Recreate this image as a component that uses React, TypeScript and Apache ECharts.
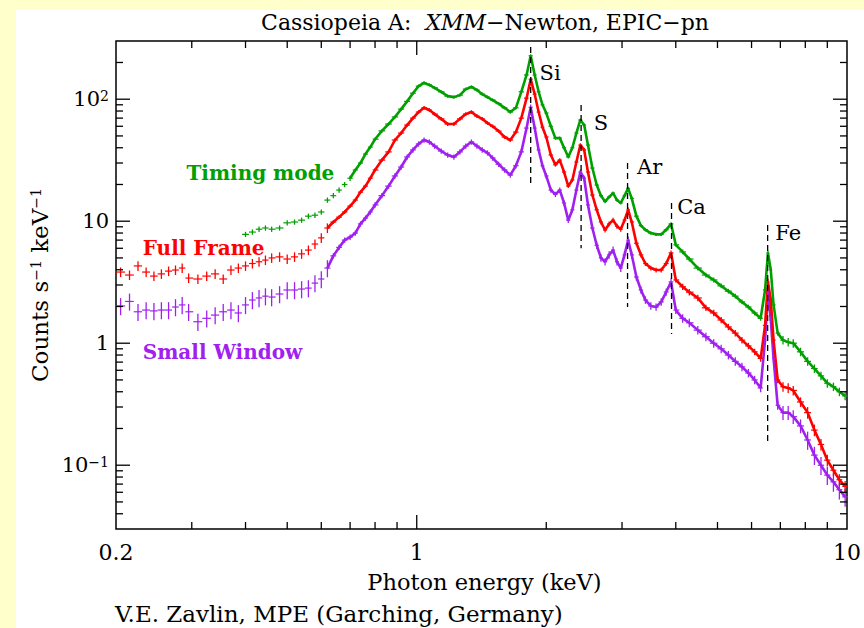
import React, { useEffect, useRef } from "react";
import * as echarts from "echarts";

// ---------- data ----------
const energyKeV = [
  0.205, 0.215, 0.225, 0.235, 0.245, 0.255, 0.265, 0.275, 0.285, 0.295,
  0.31, 0.325, 0.34, 0.355, 0.37, 0.385,
  0.40, 0.415, 0.43, 0.445, 0.46,
  0.48, 0.50, 0.52, 0.54, 0.56, 0.58, 0.60, 0.62, 0.64, 0.66, 0.68, 0.70, 0.72, 0.74, 0.76, 0.78, 0.80,
  0.83, 0.86, 0.89, 0.92, 0.95, 0.98, 1.01, 1.04, 1.07, 1.10,
  1.14, 1.18, 1.22, 1.26, 1.30, 1.34, 1.38, 1.42, 1.46,
  1.50, 1.55, 1.60, 1.65, 1.70, 1.75, 1.80,
  1.84, 1.88, 1.92, 1.96,
  2.00, 2.05, 2.10, 2.15, 2.20, 2.25, 2.30, 2.35, 2.40, 2.45, 2.50,
  2.56, 2.62, 2.68, 2.74, 2.80, 2.86, 2.92, 2.98, 3.04, 3.10, 3.16,
  3.24, 3.32, 3.40,
  3.50, 3.60, 3.70, 3.80, 3.90, 4.00,
  4.15, 4.30,
  4.50, 4.70, 4.90, 5.10, 5.30, 5.50, 5.70, 5.90, 6.10, 6.30,
  6.45, 6.55, 6.65, 6.75,
  6.90, 7.10, 7.30, 7.50,
  7.80, 8.10, 8.40, 8.70, 9.00, 9.30, 9.60, 9.90,
];

const timingMode = [
  null, null, null, null, null, null, null, null, null, null,
  null, null, null, null, null, null,
  7.8, 8.15, 8.6, 8.8, 8.6,
  8.8, 9.7, 9.85, 10.2, 11.0, 11.2, 11.9, 14.9, 16.2, 18, 20, 22.5, 26.3, 30, 35.5, 40.5, 47,
  55, 62.6, 71.5, 83, 96, 112, 128, 136, 131, 124,
  115, 106, 104, 108, 121, 126, 119, 110, 104,
  98.5, 92, 85, 78.5, 85, 115, 158,
  227, 158, 115, 90,
  77, 60, 48, 48, 40, 33.6, 40, 52.8, 67.6, 61.4, 42.1,
  27.3, 19.8, 16.2, 14.5, 15.8, 17, 14.9, 14.1, 16.2, 18.6, 15.4,
  11, 9.2, 8.5,
  8.0, 7.8, 7.8, 8.5, 9.5, 6.4,
  5.6, 4.9,
  4.13, 3.62, 3.3, 2.95, 2.67, 2.43, 2.18, 1.98, 1.77, 1.6,
  2.73, 5.5, 4.0, 2.06,
  1.21, 1.06, 1.02, 1.0,
  0.85, 0.71, 0.62, 0.54, 0.47, 0.44, 0.40, 0.37,
];

const fullFrame = [
  3.83, 3.62, 4.3, 3.83, 3.55, 3.7, 3.9, 3.98, 4.13, 3.42,
  3.36, 3.55, 3.7, 3.36, 3.98, 4.13,
  4.3, 4.5, 4.65, 4.8, 5.0,
  5.1, 4.9, 5.1, 5.4, 5.8, 6.5, 7.3, 8.8, 9.85, 10.8, 11.9, 13.3, 14.9, 17.3, 19.4, 22.5, 26.3,
  31.7, 37, 46.3, 52.8, 61.4, 70, 78.5, 85, 81.5, 75.5,
  69, 62.6, 62.6, 69, 75.5, 78.5, 72.7, 69, 63.8,
  60, 54.8, 49, 46.3, 53.8, 70, 102,
  146, 110, 78.5, 59,
  49, 34.9, 29, 31.7, 25.3, 19.4, 21.8, 30.6, 42.1, 38.4, 25.3,
  16.4, 12.4, 9.85, 8.47, 9.5, 10.2, 9.1, 8.6, 10.2, 12.4, 9.85,
  6.6, 5.3, 4.5,
  4.13, 3.98, 3.98, 4.5, 5.5, 3.3,
  2.9, 2.62,
  2.35, 1.95, 1.77, 1.55, 1.36, 1.21, 1.06, 0.95, 0.85, 0.75,
  1.4, 3.2, 2.26, 1.06,
  0.50, 0.44, 0.43, 0.41,
  0.33, 0.27, 0.194, 0.148, 0.110, 0.091, 0.076, 0.067,
];

const smallWindow = [
  2.02, 2.2, 1.81, 1.87, 1.84, 1.87, 1.87, 1.98, 2.06, 1.81,
  1.5, 1.6, 1.7, 1.81, 1.87, 1.77,
  2.06, 2.26, 2.35, 2.43, 2.39,
  2.53, 2.73, 2.73, 2.78, 2.83, 3.11, 3.36, 4.13, 5.2, 6.1, 7.0, 7.4, 8.0, 9.5, 10.6, 11.9, 13.6,
  16.2, 19.4, 23.5, 27.8, 33.6, 38.4, 43, 46.3, 44.6, 41.3,
  37.6, 34.9, 33.6, 37, 41.3, 44.6, 41.3, 38.4, 36.3,
  33, 29.3, 26.3, 23.9, 28.5, 37, 58,
  86, 58, 38.4, 28.5,
  23.5, 18, 16.6, 18, 14.1, 10.2, 12.4, 18, 25.3, 22.5, 13.6,
  8.8, 6.35, 5.0, 4.65, 5.3, 5.8, 4.65, 4.13, 5.3, 7.0, 5.3,
  3.49, 2.73, 2.26,
  2.02, 1.98, 2.18, 2.63, 3.18, 1.87,
  1.6, 1.47,
  1.28, 1.13, 1.0, 0.90, 0.80, 0.71, 0.64, 0.57, 0.50, 0.43,
  1.06, 2.58, 1.55, 0.75,
  0.31, 0.27, 0.27, 0.25,
  0.21, 0.161, 0.121, 0.10, 0.083, 0.073, 0.063, 0.055,
];

// relative 1-sigma errors: [upper energy of band (keV), relative error]
const timingErr = [[0.7, 0.05], [4.0, 0.03], [6.9, 0.045], [10, 0.08]];
const fullFrameErr = [[0.62, 0.09], [2.6, 0.035], [4.0, 0.045], [6.9, 0.06], [8.0, 0.09], [10, 0.11]];
const smallWindowErr = [[0.62, 0.16], [2.6, 0.05], [4.0, 0.07], [6.9, 0.08], [8.0, 0.13], [10, 0.17]];
// energy below which each spectrum is drawn as separate crosses only
const crossOnlyBelowKeV = [0.7, 0.61, 0.61];

const seriesNames = ["Timing mode", "Full Frame", "Small Window"];
const seriesLabelKeV = [0.2915, 0.2308, 0.2308];
const seriesLabelCounts = [24.8, 6.0, 0.847];

const lineNames = ["Si", "S", "Ar", "Ca", "Fe"];
const lineKeV = [1.84, 2.41, 3.09, 3.91, 6.54];
const lineTop = [268, 89.5, 30, 14.1, 9.3];
const lineBottom = [19.8, 6.0, 1.98, 1.19, 0.152];
const lineLabelKeV = [1.93, 2.58, 3.25, 4.03, 6.81];
const lineLabelCounts = [164, 63.8, 27.8, 13.1, 8.0];

const xTickValues = [0.2, 1, 10];
const xTickTexts = ["0.2", "1", "10"];
const yTickValues = [0.1, 1, 10, 100];
const yTickTexts = ["10{sup|−1}", "1", "10", "10{sup|2}"];
const xMinorTicks = [0.3, 0.4, 0.5, 0.6, 0.7, 0.8, 0.9, 2, 3, 4, 5, 6, 7, 8, 9];
const xMajorTicks = [1];
const yMinorTicks = [0.04, 0.05, 0.06, 0.07, 0.08, 0.09, 0.2, 0.3, 0.4, 0.5, 0.6, 0.7, 0.8, 0.9,
  2, 3, 4, 5, 6, 7, 8, 9, 20, 30, 40, 50, 60, 70, 80, 90, 200];
const yMajorTicks = [0.1, 1, 10, 100];

// ---------- styling ----------
const OX = 16;
const OY = 10;
const FONT = '"DejaVu Serif", "Liberation Serif", serif';
const COLORS = ["#00a000", "#ff0000", "#a020f0"];

function errFor(bands: number[][], e: number) {
  for (const b of bands) if (e <= b[0]) return b[1];
  return bands[bands.length - 1][1];
}

function buildPoints(values: (number | null)[], bands: number[][]) {
  const out: number[][] = [];
  for (let i = 0; i < energyKeV.length; i++) {
    const v = values[i];
    if (v == null) continue;
    const e = energyKeV[i];
    const prev = i > 0 && values[i - 1] != null ? energyKeV[i - 1] : null;
    const next = i < energyKeV.length - 1 ? energyKeV[i + 1] : null;
    const lo = prev != null ? Math.sqrt(prev * e) : next != null ? (e * e) / Math.sqrt(next * e) : e;
    const hi = next != null ? Math.sqrt(next * e) : prev != null ? (e * e) / Math.sqrt(prev * e) : e;
    out.push([e, v, lo, hi, errFor(bands, e)]);
  }
  return out;
}

function pickLabel(v: number, vals: number[], texts: string[]) {
  for (let i = 0; i < vals.length; i++) {
    if (Math.abs(Math.log10(v) - Math.log10(vals[i])) < 1e-4) return texts[i];
  }
  return "";
}

export default function App() {
  const ref = useRef<HTMLDivElement>(null);

  useEffect(() => {
    if (!ref.current) return;
    const chart = echarts.init(ref.current, undefined, { renderer: "svg" });

    const specs = [
      { name: seriesNames[0], values: timingMode, err: timingErr, color: COLORS[0], cut: crossOnlyBelowKeV[0] },
      { name: seriesNames[1], values: fullFrame, err: fullFrameErr, color: COLORS[1], cut: crossOnlyBelowKeV[1] },
      { name: seriesNames[2], values: smallWindow, err: smallWindowErr, color: COLORS[2], cut: crossOnlyBelowKeV[2] },
    ];

    const spectrumSeries: any[] = [];
    [2, 1, 0].forEach((k) => {
      const s = specs[k];
      const pts = buildPoints(s.values, s.err);
      spectrumSeries.push({
        type: "line",
        name: s.name + " line",
        data: pts.filter((p) => p[0] >= s.cut).map((p) => [p[0], p[1]]),
        showSymbol: false,
        symbol: "none",
        lineStyle: { color: s.color, width: 2.6 },
        silent: true,
        z: 3,
      });
      spectrumSeries.push({
        type: "custom",
        name: s.name,
        data: pts,
        clip: true,
        z: 4,
        encode: { x: 0, y: 1 },
        renderItem: (params: any, api: any) => {
          const e = api.value(0);
          const v = api.value(1);
          const lo = api.value(2);
          const hi = api.value(3);
          const er = api.value(4);
          const p = api.coord([e, v]);
          const pl = api.coord([lo, v]);
          const ph = api.coord([hi, v]);
          const pt = api.coord([e, v * (1 + er)]);
          const pb = api.coord([e, v * (1 - er)]);
          return {
            type: "group",
            children: [
              { type: "line", shape: { x1: pl[0], y1: p[1], x2: ph[0], y2: p[1] }, style: { stroke: s.color, lineWidth: 1.2 } },
              { type: "line", shape: { x1: p[0], y1: pt[1], x2: p[0], y2: pb[1] }, style: { stroke: s.color, lineWidth: 1.3 } },
            ],
          };
        },
      });
    });

    const tickData: number[][] = [];
    xMinorTicks.forEach((t) => tickData.push([t, 1, 0, 0]));
    xMajorTicks.forEach((t) => tickData.push([t, 1, 0, 1]));
    yMinorTicks.forEach((t) => tickData.push([1, t, 1, 0]));
    yMajorTicks.forEach((t) => tickData.push([1, t, 1, 1]));

    const tickSeries = {
      type: "custom",
      name: "ticks",
      data: tickData,
      silent: true,
      z: 6,
      encode: { x: 0, y: 1 },
      renderItem: (params: any, api: any) => {
        const cs = params.coordSys;
        const isY = api.value(2) === 1;
        const len = api.value(3) === 1 ? 14 : 7;
        const st = { stroke: "#000", lineWidth: 1.3 };
        if (!isY) {
          const x = api.coord([api.value(0), 1])[0];
          return {
            type: "group",
            children: [
              { type: "line", shape: { x1: x, y1: cs.y + cs.height, x2: x, y2: cs.y + cs.height - len }, style: st },
              { type: "line", shape: { x1: x, y1: cs.y, x2: x, y2: cs.y + len }, style: st },
            ],
          };
        }
        const y = api.coord([1, api.value(1)])[1];
        return {
          type: "group",
          children: [
            { type: "line", shape: { x1: cs.x, y1: y, x2: cs.x + len, y2: y }, style: st },
            { type: "line", shape: { x1: cs.x + cs.width, y1: y, x2: cs.x + cs.width - len, y2: y }, style: st },
          ],
        };
      },
    };

    const lineData = lineNames.map((n, i) => [lineKeV[i], lineTop[i], lineBottom[i], lineLabelKeV[i], lineLabelCounts[i], i]);
    const elementSeries = {
      type: "custom",
      name: "lines",
      data: lineData,
      silent: true,
      z: 7,
      encode: { x: 0, y: 1 },
      renderItem: (params: any, api: any) => {
        const a = api.coord([api.value(0), api.value(1)]);
        const b = api.coord([api.value(0), api.value(2)]);
        const l = api.coord([api.value(3), api.value(4)]);
        return {
          type: "group",
          children: [
            { type: "line", shape: { x1: a[0], y1: a[1], x2: b[0], y2: b[1] }, style: { stroke: "#000", lineWidth: 1.3, lineDash: [6, 4] } },
            { type: "text", x: l[0], y: l[1], style: { text: lineNames[api.value(5)], fill: "#000", font: `21px ${FONT}`, align: "left", verticalAlign: "middle" } },
          ],
        };
      },
    };

    const labelData = seriesNames.map((n, i) => [seriesLabelKeV[i], seriesLabelCounts[i], i]);
    const labelSeries = {
      type: "custom",
      name: "labels",
      data: labelData,
      silent: true,
      z: 8,
      encode: { x: 0, y: 1 },
      renderItem: (params: any, api: any) => {
        const p = api.coord([api.value(0), api.value(1)]);
        const i = api.value(2);
        return {
          type: "text",
          x: p[0],
          y: p[1],
          style: { text: seriesNames[i], fill: COLORS[i], font: `bold 20px ${FONT}`, align: "left", verticalAlign: "middle" },
        };
      },
    };

    chart.setOption({
      animation: false,
      backgroundColor: "transparent",
      grid: {
        left: 116 - OX,
        top: 41 - OY,
        width: 737,
        height: 488,
        show: true,
        borderColor: "#000",
        borderWidth: 1.5,
        backgroundColor: "transparent",
      },
      xAxis: {
        type: "log",
        logBase: 10,
        min: 0.2,
        max: 10,
        axisLine: { show: false },
        axisTick: { show: false },
        splitLine: { show: false },
        minorTick: { show: false },
        axisLabel: {
          show: true,
          showMinLabel: true,
          showMaxLabel: true,
          margin: 12,
          color: "#000",
          fontFamily: FONT,
          fontSize: 22,
          formatter: (v: number) => pickLabel(v, xTickValues, xTickTexts),
        },
      },
      yAxis: {
        type: "log",
        logBase: 10,
        min: 0.03,
        max: 300,
        axisLine: { show: false },
        axisTick: { show: false },
        splitLine: { show: false },
        minorTick: { show: false },
        axisLabel: {
          show: true,
          margin: 7,
          color: "#000",
          fontFamily: FONT,
          fontSize: 21,
          formatter: (v: number) => pickLabel(v, yTickValues, yTickTexts),
          rich: {
            sup: { fontFamily: FONT, fontSize: 14, color: "#000", verticalAlign: "top", lineHeight: 14 },
          },
        },
      },
      graphic: [
        {
          type: "text",
          x: 485 - OX,
          y: 22 - OY,
          style: {
            text: "{n|Cassiopeia A:  }{i|XMM}{n|−Newton, EPIC−pn}",
            align: "center",
            verticalAlign: "middle",
            rich: {
              n: { fontFamily: FONT, fontSize: 22, fill: "#000" },
              i: { fontFamily: FONT, fontSize: 22, fontStyle: "italic", fill: "#000" },
            },
          },
        },
        {
          type: "text",
          x: 40 - OX,
          y: 285 - OY,
          rotation: Math.PI / 2,
          style: {
            text: "{n|Counts s}{s|−1}{n| keV}{s|−1}",
            align: "center",
            verticalAlign: "middle",
            rich: {
              n: { fontFamily: FONT, fontSize: 23, fill: "#000" },
              s: { fontFamily: FONT, fontSize: 14, fill: "#000", verticalAlign: "top", lineHeight: 14 },
            },
          },
        },
        {
          type: "text",
          x: 484.5 - OX,
          y: 582 - OY,
          style: { text: "Photon energy (keV)", font: `22.5px ${FONT}`, fill: "#000", align: "center", verticalAlign: "middle" },
        },
        {
          type: "text",
          x: 115 - OX,
          y: 614 - OY,
          style: { text: "V.E. Zavlin, MPE (Garching, Germany)", font: `23px ${FONT}`, fill: "#000", align: "left", verticalAlign: "middle" },
        },
      ],
      series: [...spectrumSeries, tickSeries, elementSeries, labelSeries],
    });

    return () => chart.dispose();
  }, []);

  return (
    <div style={{ position: "absolute", left: 0, top: 0, width: 864, height: 628, background: "#ffffcc", overflow: "hidden" }}>
      <div
        ref={ref}
        style={{ position: "absolute", left: OX, top: OY, width: 864 - OX, height: 628 - OY, background: "#ffffff" }}
      />
    </div>
  );
}
